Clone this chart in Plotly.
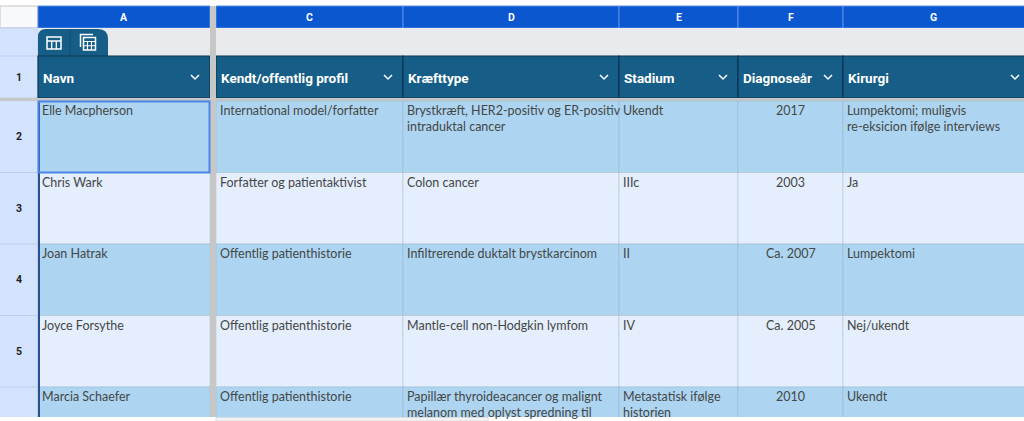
import plotly.graph_objects as go

# sheet content
col_letters = ['A', 'C', 'D', 'E', 'F', 'G']
headers = ['Navn', 'Kendt/offentlig profil', 'Kræfttype', 'Stadium', 'Diagnoseår', 'Kirurgi']
row_labels = ['2', '3', '4', '5', '']

navn = ['Elle Macpherson', 'Chris Wark', 'Joan Hatrak', 'Joyce Forsythe', 'Marcia Schaefer']
profil = ['International model/forfatter', 'Forfatter og patientaktivist',
          'Offentlig patienthistorie', 'Offentlig patienthistorie', 'Offentlig patienthistorie']
kraefttype = ['Brystkræft, HER2-positiv og ER-positiv<br>intraduktal cancer',
              'Colon cancer',
              'Infiltrerende duktalt brystkarcinom',
              'Mantle-cell non-Hodgkin lymfom',
              'Papillær thyroideacancer og malignt<br>melanom med oplyst spredning til']
stadium = ['Ukendt', 'IIIc', 'II', 'IV', 'Metastatisk ifølge<br>historien']
diagnoseaar = ['2017', '2003', 'Ca. 2007', 'Ca. 2005', '2010']
kirurgi = ['Lumpektomi; muligvis<br>re-eksicion ifølge interviews', 'Ja',
           'Lumpektomi', 'Nej/ukendt', 'Ukendt']

columns = [navn, profil, kraefttype, stadium, diagnoseaar, kirurgi]
align = ['left', 'left', 'left', 'left', 'center', 'left']

# grid geometry (pixels)
W, H = 1024, 421
col_left = [38, 216, 403, 619, 738, 843]
col_right = [210, 403, 619, 738, 843, 1030]
ROW_HDR = 38
LETTER_TOP, LETTER_BOT = 6, 28
TOOL_BOT = 56
HEAD_BOT = 98
DATA_TOP = 101
ROW_H = 71.5

DARK_ROW = '#ADD5F1'
LIGHT_ROW = '#E4EEFC'
HEAD_FILL = '#165E87'
TEXT = '#444746'

shapes = []
annotations = []


def rect(x0, y0, x1, y1, fill, line=None, width=0):
    shapes.append(dict(type='rect', xref='x', yref='y', x0=x0, y0=y0, x1=x1, y1=y1,
                       fillcolor=fill, line=dict(color=line or fill, width=width),
                       layer='above'))


def seg(path, color, width):
    shapes.append(dict(type='path', xref='x', yref='y', path=path,
                       line=dict(color=color, width=width), layer='above'))


# corner + column letter bar
rect(0, LETTER_TOP, ROW_HDR, LETTER_BOT, '#F8F9FA', '#C4C7C5', 1)
for i, letter in enumerate(col_letters):
    rect(col_left[i], LETTER_TOP, col_right[i], LETTER_BOT, '#0B57D0', '#5B8EE6', 1)
    annotations.append(dict(x=(col_left[i] + min(col_right[i], W)) / 2, y=17, text=letter,
                            showarrow=False, xanchor='center', yanchor='middle',
                            font=dict(family='Roboto', size=10.5, color='white', weight='bold')))

# row header column
rect(0, LETTER_BOT, ROW_HDR, H, '#D3E3FD')
row_edges = [LETTER_BOT, TOOL_BOT, HEAD_BOT] + [DATA_TOP + ROW_H * (i + 1) for i in range(len(navn))]
for y in row_edges:
    seg(f'M0,{y} L{ROW_HDR},{y}', '#BFCFEA', 1)
seg(f'M{ROW_HDR},{LETTER_BOT} L{ROW_HDR},{H}', '#BFCFEA', 1)
annotations.append(dict(x=ROW_HDR / 2, y=(TOOL_BOT + HEAD_BOT) / 2, text='1', showarrow=False,
                        font=dict(family='Roboto', size=10.5, color='#1F1F1F', weight='bold')))
for r, lab in enumerate(row_labels):
    annotations.append(dict(x=ROW_HDR / 2, y=DATA_TOP + ROW_H * (r + 0.5), text=lab, showarrow=False,
                            font=dict(family='Roboto', size=10.5, color='#1F1F1F', weight='bold')))

# toolbar row with table tab
rect(ROW_HDR, LETTER_BOT, W, TOOL_BOT, '#E8EAED')
shapes.append(dict(type='path', xref='x', yref='y', layer='above', fillcolor=HEAD_FILL,
                   line=dict(color=HEAD_FILL, width=0),
                   path='M38,56 L38,37 Q38,29 46,29 L98,29 Q108,29 108,39 L108,56 Z'))
seg('M70,30 L70,56', '#0F4A6C', 1)
# table icon
rect(47, 37, 61, 49, HEAD_FILL, 'white', 1.5)
seg('M47,41 L61,41', 'white', 1.5)
seg('M51.7,41 L51.7,49 M56.3,41 L56.3,49', 'white', 1.3)
# calculated-table icon
seg('M80.5,47 L80.5,34.5 L93,34.5', 'white', 1.5)
rect(83.5, 37.5, 95.5, 50, HEAD_FILL, 'white', 1.5)
seg('M83.5,41.5 L95.5,41.5 M83.5,45.7 L95.5,45.7 M87.5,41.5 L87.5,50 M91.5,41.5 L91.5,50',
    'white', 1.1)

# header row
for i, h in enumerate(headers):
    rect(col_left[i], TOOL_BOT, col_right[i], HEAD_BOT, HEAD_FILL, '#0B3550', 1.2)
    annotations.append(dict(x=col_left[i] + 3, y=(TOOL_BOT + HEAD_BOT) / 2 + 1, text=h,
                            showarrow=False, xanchor='left', yanchor='middle',
                            font=dict(family='Roboto', size=13.5, color='white', weight='bold')))
    cx, cy = col_right[i] - 15, (TOOL_BOT + HEAD_BOT) / 2
    seg(f'M{cx - 4},{cy - 2} L{cx},{cy + 2} L{cx + 4},{cy - 2}', 'white', 1.5)

# frozen dividers
rect(0, HEAD_BOT, W, DATA_TOP, '#C7C7C7')

# data rows
for r in range(len(navn)):
    y0 = DATA_TOP + ROW_H * r
    fill = DARK_ROW if r % 2 == 0 else LIGHT_ROW
    for c, col in enumerate(columns):
        rect(col_left[c], y0, col_right[c], y0 + ROW_H, fill, 'rgba(140,165,195,0.35)', 1)
        if align[c] == 'center':
            x, xa = (col_left[c] + col_right[c]) / 2, 'center'
        else:
            x, xa = col_left[c] + 2, 'left'
        annotations.append(dict(x=x, y=y0, text=col[r], showarrow=False, xanchor=xa,
                                yanchor='top', align=align[c],
                                font=dict(family='Lato', size=12.5, color=TEXT)))

rect(210, LETTER_TOP, 216, H, '#C7C7C7')

# column A left edge and active cell
seg(f'M39,{DATA_TOP} L39,{H}', '#2A4F8F', 2)
rect(38.5, DATA_TOP + 0.5, 209.5, DATA_TOP + ROW_H, 'rgba(0,0,0,0)', '#4A86E8', 2)

# bottom strip with scrollbar
rect(0, 417, W, H, 'white')
rect(216, 417.5, 488, H, '#F1F3F4', '#DADCE0', 1)

fig = go.Figure()
fig.update_layout(
    width=W, height=H,
    margin=dict(l=0, r=0, t=0, b=0),
    paper_bgcolor='white', plot_bgcolor='white',
    xaxis=dict(range=[0, W], visible=False, fixedrange=True),
    yaxis=dict(range=[H, 0], visible=False, fixedrange=True),
    shapes=shapes,
    annotations=annotations,
    showlegend=False,
)
fig.write_html('out.html', config={'displayModeBar': False},
               post_script="document.body.style.margin='0px';")
